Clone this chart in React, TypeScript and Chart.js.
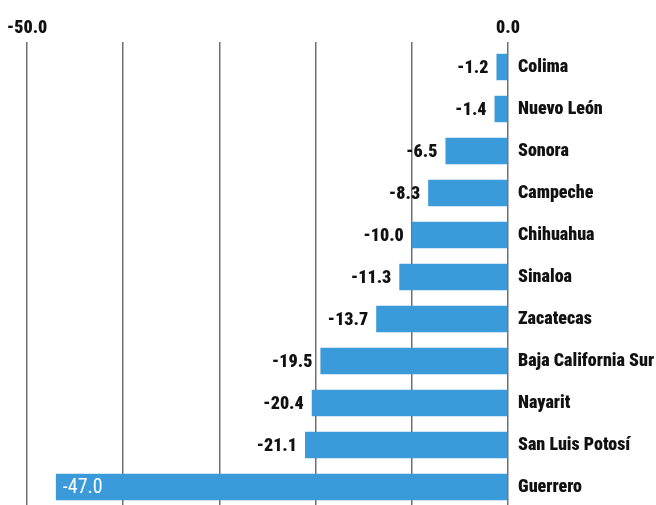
import React, { useEffect, useRef } from "react";
import { Chart, registerables } from "chart.js";

Chart.register(...registerables);

const states = [
  "Colima",
  "Nuevo León",
  "Sonora",
  "Campeche",
  "Chihuahua",
  "Sinaloa",
  "Zacatecas",
  "Baja California Sur",
  "Nayarit",
  "San Luis Potosí",
  "Guerrero",
];
const values = [-1.2, -1.4, -6.5, -8.3, -10.0, -11.3, -13.7, -19.5, -20.4, -21.1, -47.0];
const axisMin = -50;
const axisMax = 0;
const axisStep = 10;
const labelledTicks = [-50, 0];

const FONT = "Roboto, sans-serif";
const BAR_COLOR = "#3b9ad9";

const valueLabels = {
  id: "valueLabels",
  afterDatasetsDraw(chart: any) {
    const ctx = chart.ctx;
    const meta = chart.getDatasetMeta(0);
    const data = chart.data.datasets[0].data as number[];
    ctx.save();
    ctx.textBaseline = "middle";
    meta.data.forEach((bar: any, i: number) => {
      const v = data[i];
      const txt = v.toFixed(1);
      const barLen = Math.abs(bar.base - bar.x);
      if (barLen > 300) {
        ctx.font = `normal condensed 20px ${FONT}`;
        ctx.fillStyle = "#ffffff";
        ctx.textAlign = "left";
        ctx.fillText(txt, bar.x + 7, bar.y + 1);
      } else {
        ctx.font = `900 condensed 18px ${FONT}`;
        ctx.fillStyle = "#111111";
        ctx.textAlign = "right";
        ctx.fillText(txt, bar.x - 8, bar.y + 1);
      }
    });
    ctx.restore();
  },
};

export default function App() {
  const ref = useRef<HTMLCanvasElement | null>(null);
  useEffect(() => {
    if (!ref.current) return;
    const chart = new Chart(ref.current, {
      type: "bar",
      data: {
        labels: states,
        datasets: [
          {
            data: values,
            backgroundColor: BAR_COLOR,
            borderWidth: 0,
            barPercentage: 0.63,
            categoryPercentage: 1,
          },
        ],
      },
      options: {
        indexAxis: "y",
        responsive: false,
        animation: false,
        devicePixelRatio: 1,
        layout: { padding: { left: 27, right: 0, top: 0, bottom: 4 } },
        plugins: {
          legend: { display: false },
          tooltip: { enabled: false },
        },
        scales: {
          x: {
            position: "top",
            min: axisMin,
            max: axisMax,
            afterFit: (s: any) => {
              s.height = 46;
              s.paddingLeft = 0;
              s.paddingRight = 0;
            },
            ticks: {
              stepSize: axisStep,
              padding: 3,
              maxRotation: 0,
              autoSkip: false,
              color: "#111111",
              font: { family: FONT, size: 18, weight: "900 condensed" as any },
              callback: (v: any) => (labelledTicks.includes(Number(v)) ? Number(v).toFixed(1) : ""),
            },
            grid: {
              color: "#707070",
              lineWidth: 1.5,
              tickLength: 4,
              drawTicks: true,
            },
            border: { display: false },
          },
          y: {
            position: "right",
            afterFit: (s: any) => {
              s.width = 148;
              s.paddingTop = 0;
              s.paddingBottom = 0;
            },
            ticks: {
              padding: 10,
              color: "#111111",
              font: { family: FONT, size: 18, weight: "900 condensed" as any },
            },
            grid: { display: false, drawTicks: false },
            border: { display: false },
          },
        },
      },
      plugins: [valueLabels],
    });
    return () => chart.destroy();
  }, []);
  return (
    <div style={{ position: "fixed", left: 0, top: 0, width: 656, height: 512, background: "#fff" }}>
      <canvas ref={ref} width={656} height={512} style={{ width: 656, height: 512, display: "block" }} />
    </div>
  );
}
